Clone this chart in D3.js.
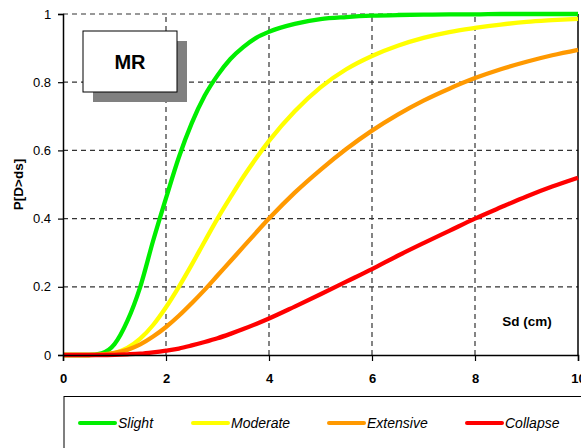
<!DOCTYPE html>
<html><head><meta charset="utf-8">
<script src="https://cdn.jsdelivr.net/npm/d3@7"></script>
<style>body{margin:0;background:#fff}svg{display:block}</style>
</head><body>
<script>
const sd = [0,0.25,0.5,0.75,1,1.25,1.5,1.75,2,2.25,2.5,2.75,3,3.25,3.5,3.75,4,4.5,5,5.5,6,6.5,7,7.5,8,8.5,9,9.5,10];
const slight    = [0,0,0,0.005,0.032,0.1,0.2,0.335,0.46,0.58,0.68,0.76,0.82,0.868,0.903,0.93,0.948,0.971,0.985,0.991,0.995,0.997,0.998,0.999,0.999,1,1,1,1];
const moderate  = [0,0,0,0.001,0.006,0.021,0.048,0.088,0.14,0.2,0.265,0.333,0.4,0.462,0.522,0.577,0.628,0.715,0.785,0.838,0.877,0.907,0.93,0.947,0.959,0.969,0.977,0.982,0.986];
const extensive = [0,0,0,0.001,0.006,0.015,0.031,0.054,0.082,0.115,0.152,0.191,0.233,0.275,0.317,0.359,0.4,0.476,0.543,0.604,0.658,0.705,0.746,0.781,0.812,0.838,0.86,0.879,0.895];
const collapse  = [0,0,0,0,0.0006,0.002,0.004,0.008,0.013,0.019,0.028,0.038,0.049,0.062,0.076,0.091,0.107,0.142,0.178,0.215,0.252,0.291,0.328,0.364,0.4,0.433,0.465,0.494,0.52];
const seriesNames = ["Slight","Moderate","Extensive","Collapse"];
const seriesColors = ["#00ee00","#ffff00","#ff9900","#ff0000"];
const xTicks = [0,2,4,6,8,10];
const yTicks = [0,0.2,0.4,0.6,0.8,1];

const W=581,H=448;
const m={l:63,r:3,t:14,b:93};
const svg=d3.select("body").append("svg").attr("width",W).attr("height",H);
const x=d3.scaleLinear().domain([0,10]).range([m.l,W-m.r]);
const y=d3.scaleLinear().domain([0,1]).range([H-m.b,m.t]);
const font="Liberation Sans, Arial, sans-serif";

// grid
const g=svg.append("g");
g.selectAll(".vg").data(xTicks.filter(d=>d>0&&d<10)).join("line")
 .attr("x1",d=>x(d)).attr("x2",d=>x(d)).attr("y1",y(0)).attr("y2",y(1))
 .attr("stroke","#333").attr("stroke-width",1.2).attr("stroke-dasharray","5,4");
g.selectAll(".hg").data(yTicks.filter(d=>d>0)).join("line")
 .attr("x1",x(0)).attr("x2",x(10)).attr("y1",d=>y(d)).attr("y2",d=>y(d))
 .attr("stroke","#333").attr("stroke-width",1.2).attr("stroke-dasharray","5,4");

// right border
svg.append("line").attr("x1",x(10)).attr("x2",x(10)).attr("y1",y(0)).attr("y2",y(1)).attr("stroke","#000").attr("stroke-width",1.5);

// MR box
svg.append("rect").attr("x",93).attr("y",41).attr("width",94).attr("height",61).attr("fill","#808080");
svg.append("rect").attr("x",83).attr("y",31).attr("width",94).attr("height",61).attr("fill","#fff").attr("stroke","#000").attr("stroke-width",1);
svg.append("text").attr("x",130).attr("y",69).attr("text-anchor","middle").attr("font-family",font).attr("font-weight","bold").attr("font-size",20).text("MR");

// curves
const data=[slight,moderate,extensive,collapse];
const line=d3.line().x((d,i)=>x(sd[i])).y(d=>y(d)).curve(d3.curveMonotoneX);
svg.selectAll(".curve").data(data).join("path")
 .attr("d",d=>line(d)).attr("fill","none").attr("stroke",(d,i)=>seriesColors[i]).attr("stroke-width",4.3);

// axes
const xa=svg.append("g").attr("transform",`translate(0,${y(0)})`)
 .call(d3.axisBottom(x).tickValues(xTicks).tickSize(6).tickFormat(d3.format("d")));
xa.select(".domain").attr("stroke","#000").attr("stroke-width",1.5);
xa.selectAll(".tick line").attr("stroke","#000").attr("stroke-width",1.2);
xa.selectAll("text").attr("font-family",font).attr("font-weight","bold").attr("font-size",13).attr("fill","#000").attr("dy","1.45em");

const ya=svg.append("g").attr("transform",`translate(${x(0)},0)`)
 .call(d3.axisLeft(y).tickValues(yTicks).tickSize(5).tickFormat(d=>d===0?"0":d===1?"1":d3.format(".1f")(d)));
ya.select(".domain").attr("stroke","#000").attr("stroke-width",1.5);
ya.selectAll(".tick line").attr("stroke","#000").attr("stroke-width",1.2);
ya.selectAll("text").attr("font-family",font).attr("font-size",13).attr("fill","#000").attr("dx","-0.3em");

// axis titles
svg.append("text").attr("transform",`translate(23,${y(0.5)}) rotate(-90)`).attr("text-anchor","middle")
 .attr("font-family",font).attr("font-weight","bold").attr("font-size",13.5).text("P[D>ds]");
svg.append("text").attr("x",527).attr("y",326).attr("text-anchor","middle")
 .attr("font-family",font).attr("font-weight","bold").attr("font-size",13.5).text("Sd (cm)");

// legend
svg.append("rect").attr("x",64).attr("y",396.5).attr("width",530).attr("height",70).attr("fill","#fff").attr("stroke","#000").attr("stroke-width",1);
const legX=[80,193,329,467];
const lg=svg.selectAll(".leg").data(seriesNames).join("g").attr("transform",(d,i)=>`translate(${legX[i]},423)`);
lg.append("line").attr("x1",0).attr("x2",35).attr("stroke",(d,i)=>seriesColors[i]).attr("stroke-width",4).attr("stroke-linecap","round");
lg.append("text").attr("x",38).attr("y",5).attr("font-family",font).attr("font-style","italic").attr("font-size",14).text(d=>d);
</script>
</body></html>
